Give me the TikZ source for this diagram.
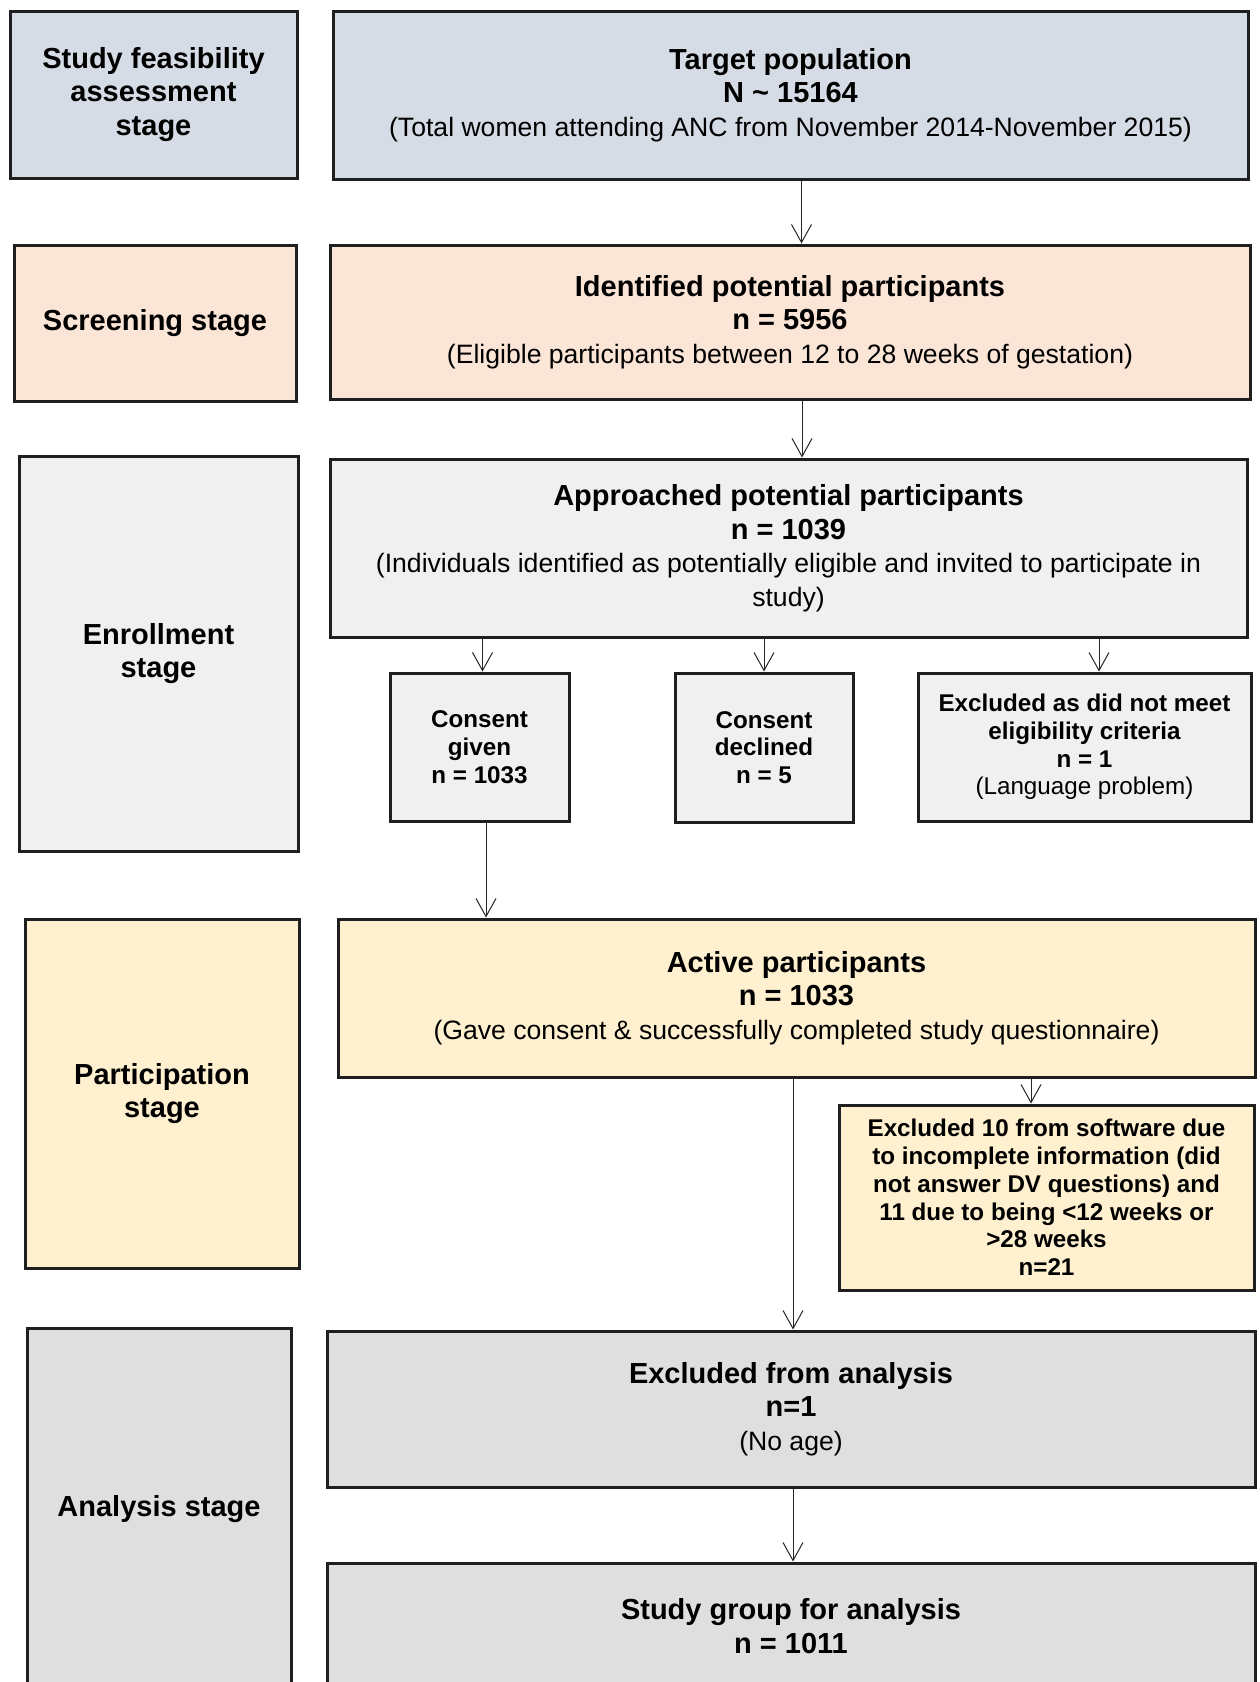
\documentclass[tikz,border=0pt]{standalone}
\usepackage{fontspec}
\setmainfont{Liberation Sans}
\usetikzlibrary{arrows.meta}
\definecolor{cblue}{HTML}{D6DCE5}
\definecolor{cpeach}{HTML}{FBE5D6}
\definecolor{cgrey}{HTML}{F0F0F0}
\definecolor{cyel}{HTML}{FFF1CF}
\definecolor{cdark}{HTML}{DFDFDF}
\newcommand\regtxt[1]{{\mdseries\fontsize{26.6}{33.5}\selectfont #1}}
\newcommand\smallreg[1]{{\mdseries #1}}
\tikzset{
  box/.style={draw=black!88, line width=3pt, align=center, inner sep=4pt,
    font=\fontsize{29}{33.5}\selectfont\bfseries},
  sbox/.style={draw=black!88, line width=3pt, align=center, inner sep=4pt,
    font=\fontsize{24.2}{27.8}\selectfont\bfseries},
  arr/.style={draw=black!85, line width=1pt, -{Straight Barb[length=18pt,width=20pt,line width=1pt]}}
}
\begin{document}
\begin{tikzpicture}[x=1pt,y=-1pt]
\useasboundingbox (0,0) rectangle (1259,1682);
\clip (0,0) rectangle (1259,1682);
% stage boxes
\node[box, fill=cblue, minimum width=287, minimum height=167] (s1) at (153.5,94.5) {Study feasibility\\assessment\\stage};
\node[box, fill=cpeach, minimum width=282, minimum height=156] (s2) at (155,323) {Screening stage};
\node[box, fill=cgrey, minimum width=279, minimum height=395] (s3) at (158.5,653.5) {Enrollment\\stage};
\node[box, fill=cyel, minimum width=274, minimum height=349] (s4) at (162,1093.5) {Participation\\stage};
\node[box, fill=cdark, minimum width=264, minimum height=363] (s5) at (159,1509.5) {Analysis stage};
% main flow
\node[box, fill=cblue, minimum width=915, minimum height=168] (target) at (790.5,95)
  {Target population\\N \textasciitilde{} 15164\\\regtxt{(Total women attending ANC from November 2014-November 2015)}};
\node[box, fill=cpeach, minimum width=920, minimum height=154] (id) at (790,322)
  {Identified potential participants\\n = 5956\\\regtxt{(Eligible participants between 12 to 28 weeks of gestation)}};
\node[box, fill=cgrey, minimum width=917, minimum height=178] (appr) at (788.5,548)
  {Approached potential participants\\n = 1039\\\regtxt{(Individuals identified as potentially eligible and invited to participate in}\\\regtxt{study)}};
\node[sbox, fill=cgrey, minimum width=179, minimum height=148] (cg) at (479.5,747) {Consent\\given\\n = 1033};
\node[sbox, fill=cgrey, minimum width=178, minimum height=149] (cd) at (764,747.5) {Consent\\declined\\n = 5};
\node[sbox, fill=cgrey, minimum width=333, minimum height=148] (ex1) at (1084.5,747)
  {Excluded as did not meet\\eligibility criteria\\n = 1\\\smallreg{(Language problem)}};
\node[box, fill=cyel, minimum width=917, minimum height=158] (act) at (796.5,998)
  {Active participants\\n = 1033\\\regtxt{(Gave consent \& successfully completed study questionnaire)}};
\node[sbox, fill=cyel, minimum width=415, minimum height=185] (ex21) at (1046.5,1197.5)
  {Excluded 10 from software due\\to incomplete information (did\\not answer DV questions) and\\11 due to being <12 weeks or\\>28 weeks\\n=21};
\node[box, fill=cdark, minimum width=928, minimum height=156] (exa) at (791,1409)
  {Excluded from analysis\\n=1\\\regtxt{(No age)}};
\node[box, fill=cdark, minimum width=928, minimum height=126] (sg) at (791,1626)
  {Study group for analysis\\n = 1011};
% connectors
\draw[arr] ([xshift=11pt]target.south) -- ([xshift=11pt]target.south |- id.north);
\draw[arr] ([xshift=12pt]id.south) -- ([xshift=12pt]id.south |- appr.north);
\draw[arr] ([xshift=3pt]cg.north |- appr.south) -- ([xshift=3pt]cg.north);
\draw[arr] (cd.north |- appr.south) -- (cd.north);
\draw[arr] ([xshift=14.5pt]ex1.north |- appr.south) -- ([xshift=14.5pt]ex1.north);
\draw[arr] ([xshift=6.5pt]cg.south) -- ([xshift=6.5pt]cg.south |- act.north);
\draw[arr] ([xshift=-15.5pt]ex21.north |- act.south) -- ([xshift=-15.5pt]ex21.north);
\draw[arr] ([xshift=-3.5pt]act.south) -- ([xshift=-3.5pt]act.south |- exa.north);
\draw[arr] ([xshift=2pt]exa.south) -- ([xshift=2pt]exa.south |- sg.north);
\end{tikzpicture}
\end{document}
